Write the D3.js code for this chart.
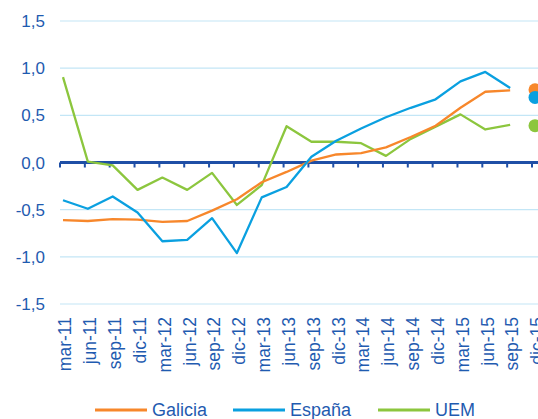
<!DOCTYPE html>
<html>
<head>
<meta charset="utf-8">
<script src="https://cdnjs.cloudflare.com/ajax/libs/d3/7.8.5/d3.min.js"></script>
<style>
  body { margin: 0; background: #fff; }
  svg { display: block; font-family: "Liberation Sans", Arial, sans-serif; }
</style>
</head>
<body>
<svg id="svg" width="538" height="419"></svg>
<script>
// categorías (trimestres)
const categories = ["mar-11","jun-11","sep-11","dic-11","mar-12","jun-12","sep-12","dic-12",
  "mar-13","jun-13","sep-13","dic-13","mar-14","jun-14","sep-14","dic-14",
  "mar-15","jun-15","sep-15","dic-15"];
const galicia = [-0.61,-0.62,-0.60,-0.605,-0.63,-0.62,-0.51,-0.39,-0.21,-0.10,0.02,0.085,0.10,0.16,0.27,0.39,0.58,0.75,0.765];
const espana  = [-0.40,-0.49,-0.36,-0.53,-0.835,-0.82,-0.59,-0.96,-0.37,-0.26,0.06,0.23,0.36,0.48,0.58,0.67,0.86,0.96,0.79];
const uem     = [0.905,0.01,-0.03,-0.29,-0.16,-0.29,-0.11,-0.45,-0.24,0.385,0.22,0.22,0.205,0.07,0.25,0.38,0.51,0.35,0.40];
// previsión dic-15
const forecast = [
  { name: "Galicia", value: 0.77 },
  { name: "España", value: 0.69 },
  { name: "UEM", value: 0.39 }
];
const yTicks = [1.5, 1.0, 0.5, 0.0, -0.5, -1.0, -1.5];

const colors = { Galicia: "#f7872b", "España": "#0aa0e0", UEM: "#8cc63e" };
const textColor = "#1f5bb0";

const svg = d3.select("#svg");

const x = d3.scalePoint().domain(categories).range([63, 535]);
const y = d3.scaleLinear().domain([-1.5, 1.5]).range([304, 21]);
const fmt = v => d3.format(".1f")(v).replace(".", ",").replace("−", "-");

// líneas de cuadrícula
svg.append("g")
  .selectAll("line")
  .data(yTicks.filter(d => d !== 0))
  .join("line")
  .attr("x1", 60)
  .attr("x2", 538)
  .attr("y1", d => y(d))
  .attr("y2", d => y(d))
  .attr("stroke", "#c3e6f6")
  .attr("stroke-width", 1.2);

// etiquetas eje Y
svg.append("g")
  .selectAll("text")
  .data(yTicks)
  .join("text")
  .attr("x", 45)
  .attr("y", d => y(d))
  .attr("dy", "0.36em")
  .attr("text-anchor", "end")
  .attr("fill", textColor)
  .attr("font-size", 17)
  .text(d => fmt(d));

// eje cero con marcas
const axis = svg.append("g");
axis.append("line")
  .attr("x1", 60)
  .attr("x2", 538)
  .attr("y1", y(0))
  .attr("y2", y(0))
  .attr("stroke", "#1f4fa6")
  .attr("stroke-width", 3);
axis.selectAll(".tick")
  .data(categories)
  .join("line")
  .attr("class", "tick")
  .attr("x1", d => x(d) - 3)
  .attr("x2", d => x(d) - 3)
  .attr("y1", y(0))
  .attr("y2", y(0) + 5)
  .attr("stroke", "#1f4fa6")
  .attr("stroke-width", 2);

// etiquetas eje X (rotadas)
svg.append("g")
  .selectAll("text")
  .data(categories)
  .join("text")
  .attr("transform", d => `translate(${x(d) + 2},317) rotate(-90)`)
  .attr("dy", "0.36em")
  .attr("text-anchor", "end")
  .attr("fill", textColor)
  .attr("font-size", 17.5)
  .text(d => d);

// series
const series = [
  { name: "UEM", values: uem },
  { name: "Galicia", values: galicia },
  { name: "España", values: espana }
];
const line = d3.line()
  .x((d, i) => x(categories[i]))
  .y(d => y(d));

svg.append("g")
  .selectAll("path")
  .data(series)
  .join("path")
  .attr("d", d => line(d.values))
  .attr("fill", "none")
  .attr("stroke", d => colors[d.name])
  .attr("stroke-width", 2.3)
  .attr("stroke-linejoin", "round");

// puntos de previsión
svg.append("g")
  .selectAll("circle")
  .data(forecast)
  .join("circle")
  .attr("cx", x("dic-15"))
  .attr("cy", d => y(d.value))
  .attr("r", 6.5)
  .attr("fill", d => colors[d.name]);

// leyenda
const legend = [
  { name: "Galicia", x: 95 },
  { name: "España", x: 233 },
  { name: "UEM", x: 378 }
];
const lg = svg.append("g")
  .selectAll("g")
  .data(legend)
  .join("g")
  .attr("transform", d => `translate(${d.x},410)`);
lg.append("line")
  .attr("x1", 0)
  .attr("x2", 52)
  .attr("stroke", d => colors[d.name])
  .attr("stroke-width", 3);
lg.append("text")
  .attr("x", 57)
  .attr("dy", "0.36em")
  .attr("fill", textColor)
  .attr("font-size", 18)
  .text(d => d.name);
</script>
</body>
</html>
